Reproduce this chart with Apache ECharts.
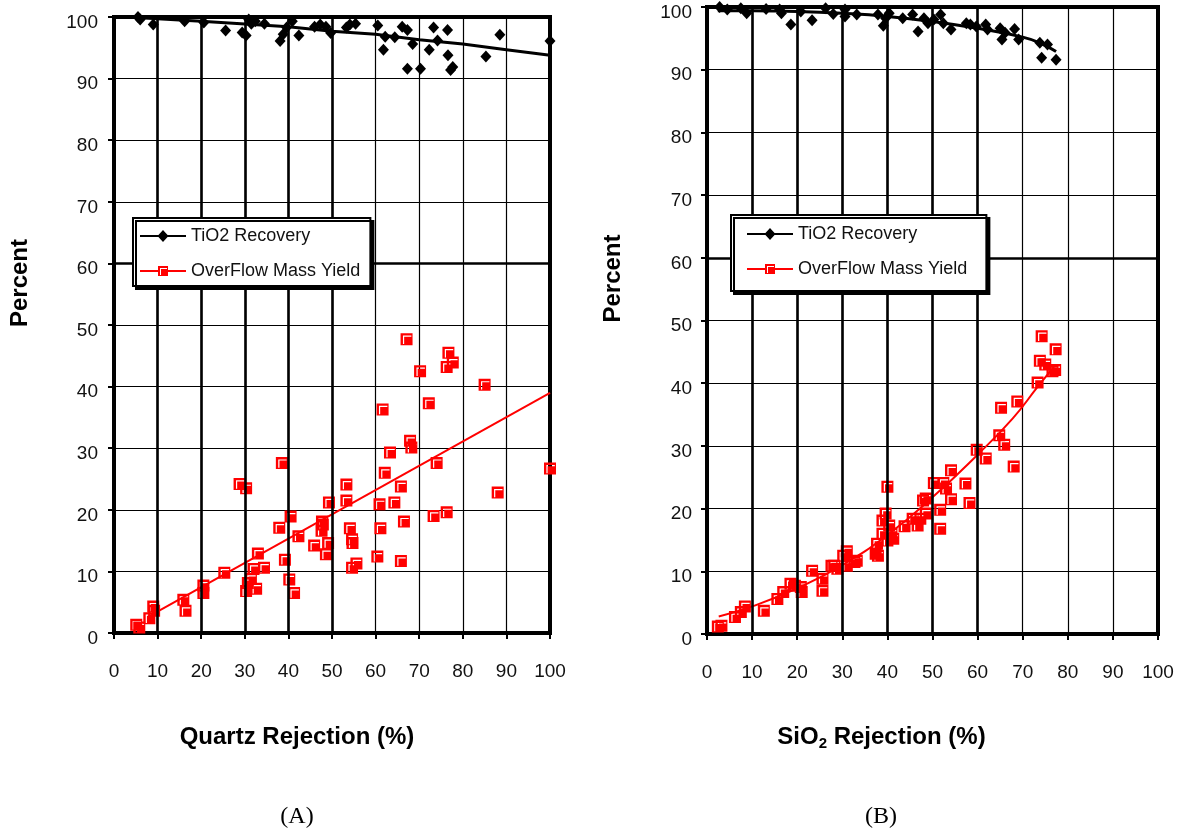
<!DOCTYPE html>
<html>
<head>
<meta charset="utf-8">
<script src="https://cdn.jsdelivr.net/npm/echarts@6/dist/echarts.min.js"></script>
<style>
  html, body { margin: 0; padding: 0; background: #fff; }
  #chart { width: 1180px; height: 840px; }
</style>
</head>
<body>
<div id="chart"></div>
<script>
// ---- Panel A: Quartz rejection ----
const tio2A = [
  [5.5,100],[6.0,99.6],[9.0,98.8],[16.2,99.3],[20.6,99.1],[25.6,97.8],[29.4,97.5],[30.3,97.0],
  [30.9,99.6],[31.5,98.9],[32.4,99.3],[34.5,98.9],[38.1,96.1],[38.8,97.2],[39.6,98.3],[40.9,99.3],
  [42.4,97.0],[46.0,98.4],[47.3,98.8],[48.6,98.4],[49.7,97.4],[53.3,98.3],[54.1,98.8],[55.4,98.9],
  [60.5,98.6],[61.8,94.7],[62.2,96.8],[64.4,96.7],[66.1,98.4],[67.3,97.9],[67.3,91.6],[68.5,95.6],
  [70.3,91.6],[72.3,94.7],[73.3,98.3],[74.2,96.2],[76.5,97.9],[76.6,93.8],[77.2,91.4],[77.7,91.9],
  [85.3,93.6],[88.5,97.1],[100,96.1]
];
const yieldA = [
  [5.1,1.35],[5.8,0.9],[8.1,2.4],[9.0,4.3],[9.2,3.6],[15.9,5.4],[16.4,3.6],[20.5,7.7],[20.5,6.5],
  [25.3,9.8],[28.8,24.2],[30.3,23.5],[30.3,6.8],[30.7,8.1],[31.4,8.8],[32.0,10.4],[32.6,7.2],
  [33.0,12.9],[34.4,10.6],[37.9,17.1],[38.5,27.6],[39.2,11.9],[40.2,8.7],[40.5,18.9],[41.3,6.5],
  [42.3,15.7],[45.9,14.2],[47.6,16.6],[47.7,18.1],[47.9,17.6],[48.6,12.8],[49.1,14.6],[49.3,21.2],
  [53.3,24.1],[53.3,21.5],[54.1,17.0],[54.6,15.2],[54.7,14.6],[54.6,10.6],[55.6,11.3],[60.4,12.4],
  [60.9,20.9],[61.1,17.0],[61.6,36.3],[62.1,26.0],[63.3,29.3],[64.3,21.2],[65.8,11.7],[65.8,23.8],
  [66.5,18.1],[67.1,47.7],[67.9,31.2],[68.2,30.1],[70.2,42.5],[72.2,37.3],[73.3,19.0],[74.0,27.6],
  [76.3,19.6],[76.7,45.5],[76.3,43.2],[77.7,43.9],[85.0,40.3],[88.0,22.8],[100,26.7]
];
const tio2TrendA = [[5,99.9],[20,99.3],[40,98.4],[50,97.7],[60,97.2],[70,96.3],[80,95.6],[90,94.7],[100,93.8]];
const yieldTrendA = [[8,2.7],[100,39.0]];

// ---- Panel B: SiO2 rejection ----
const tio2B = [
  [2.8,100],[4.5,99.6],[7.5,99.8],[8.8,99.0],[13.1,99.7],[16.1,99.6],[16.5,99.0],[18.6,97.2],
  [20.8,99.3],[23.3,97.9],[26.3,99.8],[28.0,98.9],[30.6,99.6],[30.6,98.5],[33.2,98.8],[37.9,98.8],
  [39.1,97.0],[39.6,98.2],[40.4,99.0],[43.4,98.2],[45.6,98.8],[46.8,96.1],[48.1,98.2],[49.0,97.4],
  [50.3,98.0],[51.8,98.8],[52.4,97.4],[54.1,96.4],[57.5,97.4],[58.4,97.2],[59.7,96.9],[61.8,97.2],
  [62.2,96.4],[65.0,96.6],[65.4,94.8],[66.1,95.9],[68.2,96.5],[69.1,94.8],[73.8,94.3],[74.2,91.9],
  [75.5,94.0],[77.4,91.6]
];
const yieldB = [
  [2.4,1.2],[3.2,1.3],[6.2,2.7],[7.5,3.5],[8.4,4.4],[12.6,3.7],[15.6,5.6],[16.9,6.7],[18.5,8.0],
  [19.5,7.7],[21.0,6.7],[20.8,7.5],[23.3,10.1],[25.6,6.9],[25.6,8.8],[27.6,10.9],[28.2,10.9],
  [28.9,10.4],[30.2,12.5],[31.0,13.2],[31.0,10.9],[32.7,11.5],[33.2,11.7],[37.4,12.8],[37.7,14.4],
  [37.9,12.5],[38.9,16.0],[38.9,18.1],[39.6,19.2],[40.0,23.5],[40.0,14.9],[40.4,17.3],[40.9,16.0],
  [41.3,15.2],[43.8,17.2],[45.6,18.4],[46.7,17.3],[47.3,18.4],[47.9,21.3],[48.5,21.6],[48.5,19.2],
  [50.3,24.1],[51.7,19.8],[51.7,16.8],[52.4,24.1],[53.0,23.2],[54.1,26.1],[54.1,21.5],[57.3,24.0],
  [58.2,20.9],[59.8,29.4],[61.8,28.0],[64.8,31.7],[65.9,30.2],[68.0,26.7],[65.2,36.1],[68.8,37.1],
  [73.3,40.1],[74.2,47.5],[73.8,43.6],[75.0,43.0],[77.3,45.4],[77.2,42.1],[76.6,41.9]
];
const tio2TrendB = [[2.4,99.4],[10,99.4],[20,99.3],[30,99.0],[40,98.5],[50,97.7],[60,96.6],[70,95.2],[74,94.2],[77.4,92.9]];
const yieldTrendB = [[2.6,2.8],[10,4.4],[20,7.3],[30,11.0],[40,15.8],[50,21.8],[60,28.6],[67.8,34.4],[73.3,39.4],[77.2,42.9]];

// heavier grid lines
const heavyXA = [10, 20, 30, 40, 50];
const heavyXB = [10, 20, 30, 40, 50, 60];
const heavyY = [60];

const SANS = 'Liberation Sans';
const INK = '#111';

// square marker with a white inner corner; legend icons pair a line with the marker
const squareMarker = 'path://M0,0h10v10h-10z M2,2v7h1v-6h6v-1z';
const iconDiamond = 'path://M0,5h46v2h-46z M23,0l5.5,6l-5.5,6l-5.5,-6z';
const iconSquare = 'path://M0,5h18v2h-18z M28,5h18v2h-18z M18,1h10v10h-10z M20,3v7h1v-6h6v-1z';

function xAxisFor(gridIndex, name, rich, shiftLeft, gap) {
  return {
    type: 'value', gridIndex, min: 0, max: 100, interval: 10,
    axisLine: { show: false },
    axisTick: { show: true, length: 6, lineStyle: { color: '#000', width: 2 } },
    axisLabel: { color: INK, fontSize: 19, fontFamily: SANS, margin: 29 },
    splitLine: { show: true, lineStyle: { color: '#000', width: 1.2 } },
    name, nameLocation: 'middle', nameGap: gap,
    nameTextStyle: {
      color: '#000', fontSize: 24, fontWeight: 'bold', fontFamily: SANS,
      padding: [0, shiftLeft * 2, 0, 0],
      rich
    }
  };
}

function yAxisFor(gridIndex, margin, shiftUp) {
  return {
    type: 'value', gridIndex, min: 0, max: 100, interval: 10,
    axisLine: { show: false },
    axisTick: { show: true, length: 6, lineStyle: { color: '#000', width: 2 } },
    axisLabel: {
      color: INK, fontSize: 19, fontFamily: SANS, margin,
      verticalAlign: 'top', lineHeight: 11
    },
    splitLine: { show: true, lineStyle: { color: '#000', width: 1.2 } },
    name: 'Percent', nameLocation: 'middle', nameGap: 82,
    nameTextStyle: {
      color: '#000', fontSize: 24, fontWeight: 'bold', fontFamily: SANS,
      padding: [0, 0, 0, shiftUp * 2]
    }
  };
}

function panelSeries(idx, tio2, yld, tio2Trend, yieldTrend, heavyX, smooth) {
  return [
    {
      type: 'line', xAxisIndex: idx, yAxisIndex: idx, data: [], z: 1, silent: true,
      markLine: {
        silent: true, symbol: 'none', animation: false,
        label: { show: false },
        lineStyle: { color: '#000', width: 2.6, type: 'solid' },
        data: heavyX.map(v => ({ xAxis: v })).concat(heavyY.map(v => ({ yAxis: v })))
      }
    },
    {
      name: 'TiO2 Recovery', type: 'scatter', xAxisIndex: idx, yAxisIndex: idx,
      symbol: 'diamond', symbolSize: [11, 12], data: tio2, z: 3,
      itemStyle: { color: '#000', borderWidth: 0, opacity: 1 }
    },
    {
      name: 'OverFlow Mass Yield', type: 'scatter', xAxisIndex: idx, yAxisIndex: idx,
      symbol: squareMarker, symbolSize: 12, data: yld, z: 3,
      itemStyle: { color: '#ff0000', borderWidth: 0, opacity: 1 }
    },
    {
      name: 'TiO2 Recovery', type: 'line', xAxisIndex: idx, yAxisIndex: idx,
      data: tio2Trend, showSymbol: false, symbol: 'none', z: 4, smooth,
      lineStyle: { color: '#000', width: 3 }, itemStyle: { color: '#000' }
    },
    {
      name: 'OverFlow Mass Yield', type: 'line', xAxisIndex: idx, yAxisIndex: idx,
      data: yieldTrend, showSymbol: false, symbol: 'none', z: 4, smooth,
      lineStyle: { color: '#ff0000', width: 2 }, itemStyle: { color: '#ff0000' }
    }
  ];
}

function legendFor(left, top, padding, itemGap) {
  return {
    orient: 'vertical', left, top, padding, itemGap, z: 20,
    itemWidth: 46, itemHeight: 12, selectedMode: false,
    backgroundColor: '#fff', borderColor: '#000', borderWidth: 2,
    shadowColor: '#000', shadowOffsetX: 3, shadowOffsetY: 3, shadowBlur: 0,
    textStyle: { fontSize: 18, color: INK, fontFamily: SANS },
    data: [
      { name: 'TiO2 Recovery', icon: iconDiamond },
      { name: 'OverFlow Mass Yield', icon: iconSquare }
    ]
  };
}

const subRich = {
  m: { fontSize: 24, fontWeight: 'bold', fontFamily: SANS, color: '#000', lineHeight: 28 },
  s: { fontSize: 15, fontWeight: 'bold', fontFamily: SANS, color: '#000', lineHeight: 12, verticalAlign: 'bottom' }
};

const chart = echarts.init(document.getElementById('chart'), null, { renderer: 'canvas' });
chart.setOption({
  animation: false,
  backgroundColor: '#fff',
  grid: [
    { left: 114, top: 17, width: 436, height: 616, show: true, borderColor: '#000', borderWidth: 4, backgroundColor: 'transparent' },
    { left: 707, top: 7, width: 451, height: 627, show: true, borderColor: '#000', borderWidth: 4, backgroundColor: 'transparent' }
  ],
  xAxis: [
    xAxisFor(0, 'Quartz Rejection (%)', undefined, 35, 92),
    xAxisFor(1, '{m|SiO}{s|2}{m| Rejection (%)}', subRich, 51, 89)
  ],
  yAxis: [
    yAxisFor(0, 16, 42),
    yAxisFor(1, 15, 42)
  ],
  legend: [
    legendFor(133, 218, [9, 10, 6, 7], 17),
    legendFor(731, 215, [10, 19, 13, 16], 17)
  ],
  graphic: [
    { type: 'text', x: 297, y: 817, z: 10, style: { text: '(A)', font: '24px "Liberation Serif"', fill: '#000', align: 'center', verticalAlign: 'middle', textAlign: 'center', textVerticalAlign: 'middle' } },
    { type: 'text', x: 881, y: 817, z: 10, style: { text: '(B)', font: '24px "Liberation Serif"', fill: '#000', align: 'center', verticalAlign: 'middle', textAlign: 'center', textVerticalAlign: 'middle' } }
  ],
  series: [].concat(
    panelSeries(0, tio2A, yieldA, tio2TrendA, yieldTrendA, heavyXA, false),
    panelSeries(1, tio2B, yieldB, tio2TrendB, yieldTrendB, heavyXB, 0.5)
  )
});
</script>
</body>
</html>
